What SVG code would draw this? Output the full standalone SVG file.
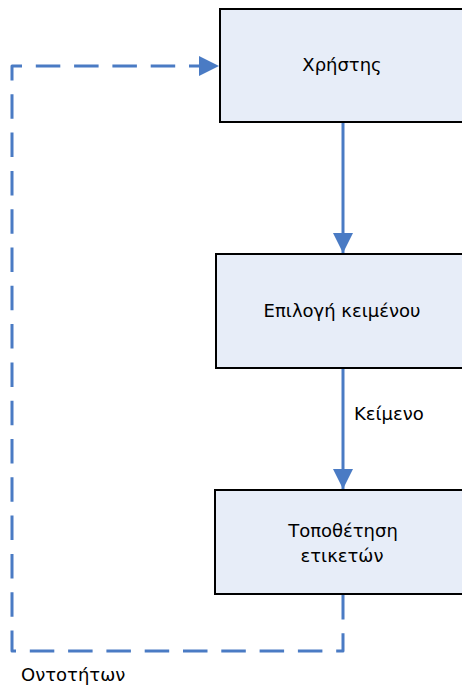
<svg xmlns="http://www.w3.org/2000/svg" width="462" height="688" viewBox="0 0 462 688">
  <defs>
    <marker id="arrow" viewBox="0 0 20 20" refX="20" refY="10" markerWidth="20" markerHeight="20" markerUnits="userSpaceOnUse" orient="auto">
      <path d="M0,0 L20,10 L0,20 Z" fill="#4A7BC4"/>
    </marker>
  </defs>
  <style>
    .box { fill: #E7EDF8; stroke: #000; stroke-width: 2; }
    .label { font-family: "DejaVu Sans", "Liberation Sans", sans-serif; font-size: 18px; fill: #000; }
    .mid { text-anchor: middle; }
    .flow { fill: none; stroke: #4A7BC4; stroke-width: 3; }
    .dash { stroke-dasharray: 24.5 13.8; stroke-linejoin: round; }
  </style>
  <rect width="462" height="688" fill="#fff"/>

  <g id="connectors">
    <line class="flow" x1="343" y1="123" x2="343" y2="253" marker-end="url(#arrow)"/>
    <line class="flow" x1="343" y1="369" x2="343" y2="489" marker-end="url(#arrow)"/>
    <path class="flow dash" d="M343,595 L343,651 L12,651 L12,66 L219,66" marker-end="url(#arrow)"/>
    <text class="label" x="354" y="420">Κείμενο</text>
    <text class="label" x="21" y="681">Οντοτήτων</text>
  </g>

  <g id="user">
    <rect class="box" x="220" y="9" width="260" height="113"/>
    <text class="label mid" x="342" y="71">Χρήστης</text>
  </g>

  <g id="text-selection">
    <rect class="box" x="216" y="254" width="264" height="114"/>
    <text class="label mid" x="342" y="317">Επιλογή κειμένου</text>
  </g>

  <g id="entity-tagging">
    <rect class="box" x="215" y="490" width="265" height="104"/>
    <text class="label mid" x="343" y="537">Τοποθέτηση</text>
    <text class="label mid" x="342" y="562">ετικετών</text>
  </g>
</svg>
